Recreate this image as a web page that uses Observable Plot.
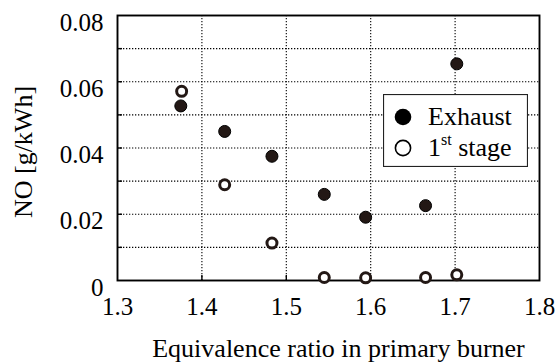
<!DOCTYPE html>
<html>
<head>
<meta charset="utf-8">
<script src="https://cdn.jsdelivr.net/npm/d3@7"></script>
<script src="https://cdn.jsdelivr.net/npm/@observablehq/plot@0.6"></script>
<style>
  html, body { margin: 0; padding: 0; background: #fff; }
  #wrap { position: relative; width: 558px; height: 362px; font-family: "Liberation Serif", "Times New Roman", serif; }
  #legend { position: absolute; left: 383px; top: 94px; width: 145px; height: 73px; }
</style>
</head>
<body>
<div id="wrap"></div>
<script>
const phiExhaust = [1.375, 1.427, 1.483, 1.545, 1.594, 1.665, 1.702];
const noExhaust  = [0.0527, 0.0450, 0.0375, 0.0260, 0.0191, 0.0226, 0.0654];
const phiStage   = [1.376, 1.427, 1.483, 1.545, 1.594, 1.665, 1.702];
const noStage    = [0.0571, 0.0289, 0.0113, 0.0009, 0.0008, 0.0009, 0.0017];
const xTicks = [1.3, 1.4, 1.5, 1.6, 1.7, 1.8];
const yTicks = [0, 0.02, 0.04, 0.06, 0.08];
const yMinor = [0.01, 0.02, 0.03, 0.04, 0.05, 0.06, 0.07];
const xGrid = [1.4, 1.5, 1.6, 1.7];
const xLabel = "Equivalence ratio in primary burner";
const yLabel = "NO [g/kWh]";
const seriesNames = ["Exhaust", "1st stage"];

const exhaust = phiExhaust.map((x, i) => ({x, y: noExhaust[i]}));
const stage = phiStage.map((x, i) => ({x, y: noStage[i]}));
const ink = "#231815";
const serif = "'Liberation Serif', 'Times New Roman', serif";
const dots = "1.3,1.7";

const chart = Plot.plot({
  width: 558, height: 362,
  marginLeft: 117, marginRight: 19, marginTop: 15, marginBottom: 82,
  style: {fontFamily: serif, fontSize: "25px", color: "#000", background: "#fff", overflow: "visible"},
  x: {domain: [1.3, 1.8]},
  y: {domain: [0, 0.08]},
  marks: [
    Plot.gridY(yMinor, {stroke: "#000", strokeOpacity: 1, strokeDasharray: dots, strokeWidth: 1.1}),
    Plot.gridX(xGrid, {stroke: "#000", strokeOpacity: 1, strokeDasharray: dots, strokeWidth: 1.1}),
    Plot.axisY(yMinor, {tickSize: -5, text: null, label: null, strokeWidth: 1.4}),
    Plot.axisX(xGrid, {tickSize: -5, text: null, label: null, strokeWidth: 1.4}),
    Plot.axisY(yTicks, {tickSize: 0, tickPadding: 14, dy: 7, tickFormat: d => d === 0 ? "0" : d.toFixed(2), label: null, fontSize: 25}),
    Plot.axisX(xTicks, {tickSize: 0, tickPadding: 17, tickFormat: d => d.toFixed(1), label: null, fontSize: 25}),
    Plot.text([xLabel], {frameAnchor: "bottom", lineAnchor: "middle", textAnchor: "middle", dy: 68, dx: 10, fontSize: 26, text: d => d}),
    Plot.text([yLabel], {frameAnchor: "left", lineAnchor: "middle", textAnchor: "middle", dx: -94, dy: 4, rotate: -90, fontSize: 26, text: d => d}),
    Plot.frame({stroke: "#000", strokeWidth: 1.9}),
    Plot.dot(exhaust, {x: "x", y: "y", r: 6, fill: ink, stroke: "#000", strokeWidth: 1}),
    Plot.dot(stage, {x: "x", y: "y", r: 5, fill: "#fff", stroke: ink, strokeWidth: 3})
  ]
});
const wrap = document.getElementById("wrap");
wrap.appendChild(chart);

const legend = document.createElement("div");
legend.id = "legend";
legend.innerHTML = `
<svg width="145" height="73" style="font-family:${serif};font-size:26px">
  <rect x="0.5" y="0.5" width="144" height="72" fill="#fff" stroke="#222" stroke-width="1.2"/>
  <circle cx="20" cy="23" r="8.3" fill="#000"/>
  <text x="45" y="31">${seriesNames[0]}</text>
  <circle cx="20" cy="54" r="7.6" fill="#fff" stroke="#000" stroke-width="1.6"/>
  <text x="45" y="62">1<tspan font-size="16" dy="-11">st</tspan><tspan dy="11"> stage</tspan></text>
</svg>`;
wrap.appendChild(legend);
</script>
</body>
</html>
